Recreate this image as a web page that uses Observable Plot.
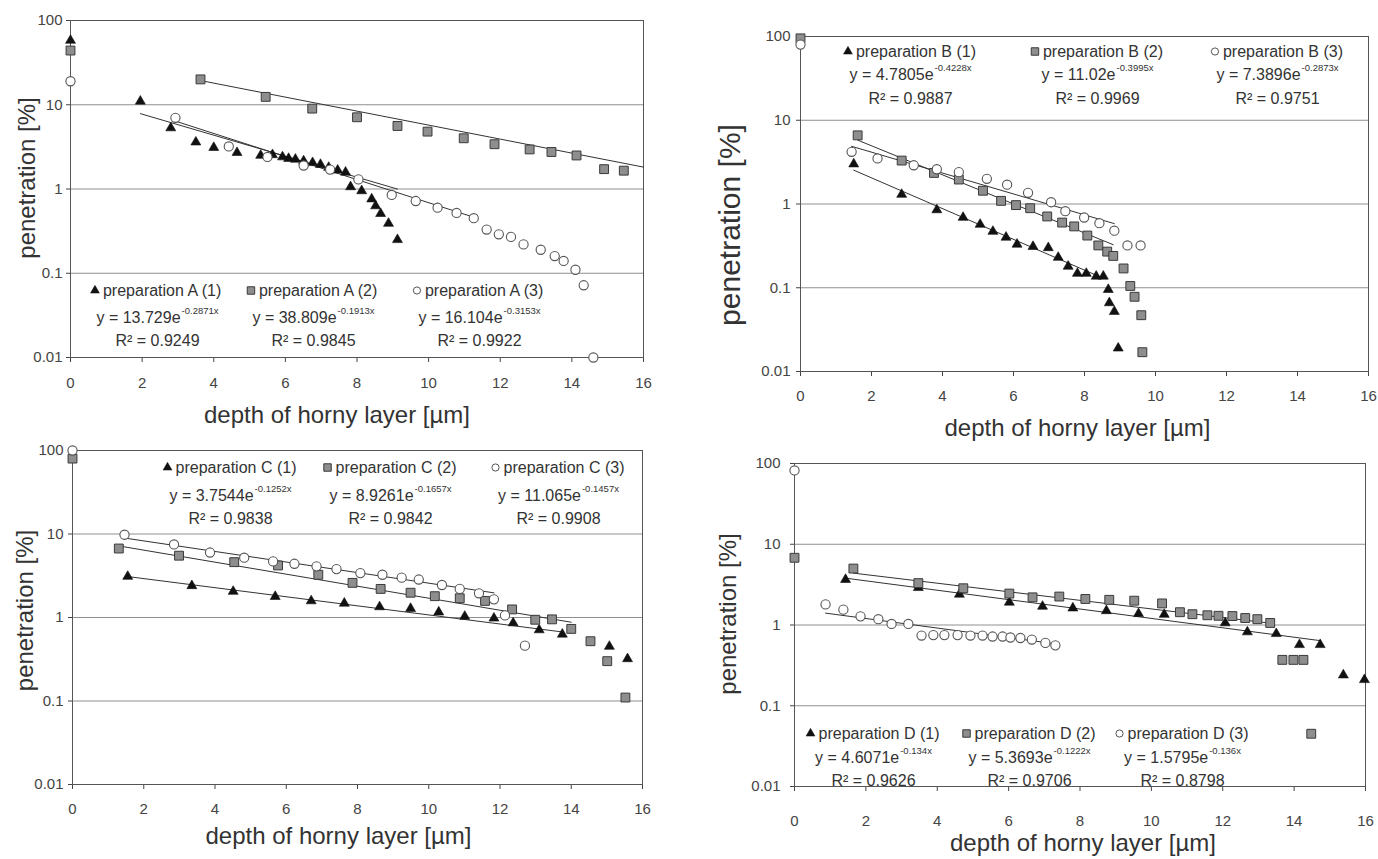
<!DOCTYPE html>
<html><head><meta charset="utf-8">
<script src="https://cdn.jsdelivr.net/npm/d3@7"></script>
<script src="https://cdn.jsdelivr.net/npm/@observablehq/plot@0.6"></script>
<style>
body{margin:0;background:#fff;}
#page{position:relative;width:1378px;height:859px;overflow:hidden;background:#fff;}
.panel{position:absolute;}
</style></head><body><div id="page"></div>
<script>
// ---------- shared axis data ----------
const xTicks = [0, 2, 4, 6, 8, 10, 12, 14, 16];
const yTicks = [0.01, 0.1, 1, 10, 100];
const yTickLabels = ["0.01", "0.1", "1", "10", "100"];
const xTitle = "depth of horny layer [µm]";
const yTitle = "penetration [%]";

// ---------- panel A ----------
const A1x = [0, 1.95, 2.8, 3.5, 4.0, 4.65, 5.31, 5.64, 5.92, 6.09, 6.28, 6.51, 6.76, 6.98, 7.21, 7.46, 7.68, 7.82, 8.13, 8.41, 8.52, 8.66, 8.88, 9.13];
const A1y = [58, 11, 5.3, 3.6, 3.1, 2.7, 2.5, 2.55, 2.4, 2.3, 2.25, 2.15, 2.05, 1.95, 1.8, 1.67, 1.58, 1.06, 0.95, 0.76, 0.63, 0.51, 0.39, 0.25];
const A2x = [0, 3.63, 5.45, 6.75, 8.0, 9.13, 9.97, 10.98, 11.84, 12.82, 13.43, 14.13, 14.9, 15.45];
const A2y = [44, 20, 12.4, 9.0, 7.1, 5.6, 4.8, 4.0, 3.4, 2.95, 2.75, 2.5, 1.72, 1.65];
const A3x = [0, 2.93, 4.42, 5.5, 6.51, 7.25, 8.04, 8.97, 9.64, 10.25, 10.78, 11.26, 11.62, 11.96, 12.3, 12.65, 13.13, 13.52, 13.77, 14.1, 14.33, 14.6];
const A3y = [19, 7.0, 3.2, 2.4, 1.9, 1.7, 1.3, 0.85, 0.72, 0.6, 0.52, 0.45, 0.33, 0.29, 0.27, 0.22, 0.19, 0.16, 0.14, 0.11, 0.072, 0.01];
const A_labels = ["preparation A (1)", "preparation A (2)", "preparation A (3)"];
const A_coef = [13.729, 38.809, 16.104];
const A_rate = [-0.2871, -0.1913, -0.3153];
const A_r2 = ["0.9249", "0.9845", "0.9922"];
const A_fitRange = [[1.95, 9.13], [3.63, 16], [2.93, 11.3]];

// ---------- panel B ----------
const B1x = [1.5, 2.85, 3.84, 4.58, 5.06, 5.42, 5.79, 6.1, 6.55, 6.98, 7.26, 7.54, 7.8, 8.05, 8.33, 8.53, 8.67, 8.7, 8.84, 8.95];
const B1y = [3.0, 1.3, 0.85, 0.69, 0.57, 0.47, 0.4, 0.33, 0.31, 0.3, 0.23, 0.18, 0.148, 0.148, 0.137, 0.137, 0.095, 0.066, 0.052, 0.019];
const B2x = [0, 1.61, 2.85, 3.76, 4.46, 5.14, 5.65, 6.07, 6.47, 6.95, 7.37, 7.71, 8.08, 8.39, 8.64, 8.81, 9.1, 9.29, 9.41, 9.6, 9.63];
const B2y = [95, 6.6, 3.3, 2.35, 1.96, 1.44, 1.09, 0.97, 0.89, 0.71, 0.6, 0.54, 0.42, 0.32, 0.27, 0.24, 0.17, 0.105, 0.078, 0.047, 0.017];
const B3x = [0, 1.44, 2.17, 3.19, 3.84, 4.46, 5.25, 5.82, 6.41, 7.06, 7.46, 7.99, 8.42, 8.84, 9.21, 9.58];
const B3y = [80, 4.2, 3.5, 2.9, 2.6, 2.4, 2.0, 1.7, 1.36, 1.05, 0.82, 0.69, 0.59, 0.48, 0.32, 0.32];
const B_labels = ["preparation B (1)", "preparation B (2)", "preparation B (3)"];
const B_coef = [4.7805, 11.02, 7.3896];
const B_rate = [-0.4228, -0.3995, -0.2873];
const B_r2 = ["0.9887", "0.9969", "0.9751"];
const B_fitRange = [[1.5, 8.53], [1.61, 8.81], [1.44, 8.84]];

// ---------- panel C ----------
const C1x = [1.55, 3.35, 4.51, 5.69, 6.7, 7.63, 8.62, 9.49, 10.28, 11.01, 11.83, 12.37, 13.1, 13.75, 15.07, 15.58];
const C1y = [3.1, 2.4, 2.05, 1.78, 1.58, 1.48, 1.34, 1.28, 1.16, 1.03, 0.98, 0.86, 0.71, 0.63, 0.45, 0.32];
const C2x = [0, 1.3, 2.99, 4.54, 5.77, 6.9, 7.86, 8.65, 9.49, 10.17, 10.87, 11.58, 12.34, 12.99, 13.46, 14.0, 14.54, 15.01, 15.52];
const C2y = [80, 6.7, 5.5, 4.6, 4.2, 3.25, 2.6, 2.2, 1.98, 1.8, 1.7, 1.58, 1.25, 0.94, 0.95, 0.73, 0.52, 0.3, 0.11];
const C3x = [0, 1.46, 2.85, 3.86, 4.82, 5.63, 6.23, 6.85, 7.41, 8.08, 8.7, 9.24, 9.72, 10.37, 10.87, 11.41, 11.83, 12.14, 12.7];
const C3y = [100, 9.8, 7.5, 6.0, 5.2, 4.7, 4.4, 4.1, 3.8, 3.4, 3.25, 3.0, 2.85, 2.45, 2.2, 1.95, 1.65, 1.06, 0.46];
const C_labels = ["preparation C (1)", "preparation C (2)", "preparation C (3)"];
const C_coef = [3.7544, 8.9261, 11.065];
const C_rate = [-0.1252, -0.1657, -0.1457];
const C_r2 = ["0.9838", "0.9842", "0.9908"];
const C_fitRange = [[1.55, 13.75], [1.3, 14.0], [1.46, 11.83]];

// ---------- panel D ----------
const D1x = [1.43, 3.47, 4.62, 6.02, 6.95, 7.8, 8.74, 9.64, 10.36, 12.07, 12.69, 13.5, 14.15, 14.73, 15.38, 15.97];
const D1y = [3.65, 2.9, 2.4, 1.91, 1.7, 1.62, 1.5, 1.38, 1.35, 1.06, 0.82, 0.78, 0.57, 0.57, 0.24, 0.21];
const D2x = [0, 1.65, 3.47, 4.73, 6.02, 6.67, 7.42, 8.15, 8.82, 9.52, 10.3, 10.8, 11.15, 11.57, 11.88, 12.27, 12.63, 12.97, 13.33, 13.67, 13.98, 14.26, 14.48];
const D2y = [6.8, 5.0, 3.3, 2.85, 2.45, 2.2, 2.25, 2.1, 2.05, 2.0, 1.85, 1.44, 1.36, 1.32, 1.3, 1.29, 1.22, 1.18, 1.06, 0.37, 0.37, 0.37, 0.045];
const D3x = [0, 0.87, 1.37, 1.85, 2.35, 2.72, 3.19, 3.56, 3.89, 4.2, 4.57, 4.93, 5.27, 5.55, 5.83, 6.05, 6.33, 6.65, 7.03, 7.31];
const D3y = [82, 1.8, 1.55, 1.28, 1.18, 1.03, 1.03, 0.74, 0.75, 0.75, 0.75, 0.74, 0.74, 0.72, 0.72, 0.7, 0.69, 0.66, 0.6, 0.56];
const D_labels = ["preparation D (1)", "preparation D (2)", "preparation D (3)"];
const D_coef = [4.6071, 5.3693, 1.5795];
const D_rate = [-0.134, -0.1222, -0.136];
const D_r2 = ["0.9626", "0.9706", "0.8798"];
const D_fitRange = [[1.43, 14.73], [1.65, 13.33], [0.87, 7.31]];

// ---------- styles & layout (not data) ----------
const FONT = "'Liberation Sans', Arial, Helvetica, sans-serif";
const TEXT = "#333";
const markerStyles = [
  {symbol: "triangle", r: 3.7, fill: "#111", stroke: "#111", strokeWidth: 0.6},
  {symbol: "square", r: 5, fill: "#8e8e8e", stroke: "#3a3a3a", strokeWidth: 1},
  {symbol: "circle", r: 4.6, fill: "#fff", stroke: "#555", strokeWidth: 1.1}
];
const legendMarkerStyles = [
  {symbol: "triangle", r: 3.3, fill: "#111", stroke: "#111", strokeWidth: 0.5},
  {symbol: "square", r: 4.2, fill: "#8e8e8e", stroke: "#3a3a3a", strokeWidth: 1},
  {symbol: "circle", r: 3.6, fill: "#fff", stroke: "#555", strokeWidth: 1}
];
const layout = {
  A: {left: 0, top: 0, width: 689, height: 430, m: [20, 46, 73, 70], xPad: 15, yPad: 4, rows: [270, 297, 320], cols: [87, 243, 409], xt: [-20, 58], yt: [-43, -11, 24]},
  B: {left: 689, top: 0, width: 689, height: 440, m: [36, 10, 69, 111], xPad: 14, yPad: 6, rows: [15, 38, 62], cols: [110, 297, 477], xt: [-7, 57], yt: [-70, 21, 30]},
  C: {left: 0, top: 430, width: 689, height: 429, m: [20, 47, 75, 72], xPad: 14, yPad: 5, rows: [17, 45, 68], cols: [158, 318, 486], xt: [-19, 52], yt: [-47, -7, 24]},
  D: {left: 689, top: 440, width: 689, height: 419, m: [23, 13, 73, 105], xPad: 24, yPad: 10, rows: [270, 294, 317], cols: [79, 235, 388], xt: [3, 57], yt: [-66, -11, 24]}
};

const panels = [
  {id: "A", xs: [A1x, A2x, A3x], ys: [A1y, A2y, A3y], labels: A_labels, coef: A_coef, rate: A_rate, r2: A_r2, fit: A_fitRange},
  {id: "B", xs: [B1x, B2x, B3x], ys: [B1y, B2y, B3y], labels: B_labels, coef: B_coef, rate: B_rate, r2: B_r2, fit: B_fitRange},
  {id: "C", xs: [C1x, C2x, C3x], ys: [C1y, C2y, C3y], labels: C_labels, coef: C_coef, rate: C_rate, r2: C_r2, fit: C_fitRange},
  {id: "D", xs: [D1x, D2x, D3x], ys: [D1y, D2y, D3y], labels: D_labels, coef: D_coef, rate: D_rate, r2: D_r2, fit: D_fitRange}
];

const ctx = document.createElement("canvas").getContext("2d");
function tw(text, size) { ctx.font = `${size}px 'Liberation Sans', Arial, sans-serif`; return ctx.measureText(text).width; }

const LEG = 16, EXP = 9.5;

function makePanel(p) {
  const L = layout[p.id];
  const marks = [];
  marks.push(Plot.ruleY(yTicks.slice(1, -1), {stroke: "#8f8f8f", strokeWidth: 1}));
  marks.push(Plot.frame({stroke: "#555", strokeWidth: 1}));
  // trend lines y = a·e^(b·x), straight on a log axis
  p.coef.forEach((a, i) => {
    const pts = p.fit[i].map(x => ({x, y: a * Math.exp(p.rate[i] * x)}));
    marks.push(Plot.line(pts, {x: "x", y: "y", stroke: "#333", strokeWidth: 1}));
  });
  // points
  p.xs.forEach((xs, i) => {
    const data = xs.map((x, j) => ({x, y: p.ys[i][j]}));
    marks.push(Plot.dot(data, {x: "x", y: "y", ...markerStyles[i]}));
  });
  // legend blocks
  p.labels.forEach((lab, i) => {
    const c = L.cols[i];
    const w = tw(lab, LEG);
    const left = c - (w + 13) / 2;
    marks.push(Plot.dot([lab], {frameAnchor: "top-left", dx: left + 4, dy: L.rows[0], ...legendMarkerStyles[i]}));
    marks.push(Plot.text([lab], {frameAnchor: "top-left", dx: left + 12, dy: L.rows[0], textAnchor: "start", lineAnchor: "middle", fontSize: LEG, fill: TEXT}));
    const main = `y = ${p.coef[i]}e`;
    const ex = `${p.rate[i]}x`;
    const mw = tw(main, LEG), ew = tw(ex, EXP);
    const P = c - (mw + ew + 1) / 2 + mw;
    marks.push(Plot.text([main], {frameAnchor: "top-left", dx: P, dy: L.rows[1], textAnchor: "end", lineAnchor: "middle", fontSize: LEG, fill: TEXT}));
    marks.push(Plot.text([ex], {frameAnchor: "top-left", dx: P + 1, dy: L.rows[1] - 7, textAnchor: "start", lineAnchor: "middle", fontSize: EXP, fill: TEXT}));
    marks.push(Plot.text([`R² = ${p.r2[i]}`], {frameAnchor: "top-left", dx: c, dy: L.rows[2], textAnchor: "middle", lineAnchor: "middle", fontSize: LEG, fill: TEXT}));
  });
  // axis titles
  marks.push(Plot.text([xTitle], {frameAnchor: "bottom", dx: L.xt[0], dy: L.xt[1], textAnchor: "middle", lineAnchor: "middle", fontSize: 24, fill: TEXT}));
  marks.push(Plot.text([yTitle], {frameAnchor: "left", rotate: -90, dx: L.yt[0], dy: L.yt[1], textAnchor: "middle", lineAnchor: "middle", fontSize: L.yt[2], fill: TEXT}));

  return Plot.plot({
    width: L.width, height: L.height,
    marginTop: L.m[0], marginRight: L.m[1], marginBottom: L.m[2], marginLeft: L.m[3],
    style: {fontFamily: FONT, fontSize: "15px", color: "#444", background: "transparent", overflow: "visible"},
    x: {domain: [0, 16], ticks: xTicks, tickSize: 5, tickPadding: L.xPad, label: null},
    y: {type: "log", domain: [0.01, 100], ticks: yTicks, tickFormat: d => yTickLabels[yTicks.indexOf(d)], tickSize: 4, tickPadding: L.yPad, label: null},
    marks
  });
}

const page = document.getElementById("page");
panels.forEach(p => {
  const L = layout[p.id];
  const div = document.createElement("div");
  div.className = "panel";
  div.style.left = L.left + "px";
  div.style.top = L.top + "px";
  div.style.width = L.width + "px";
  div.style.height = L.height + "px";
  div.appendChild(makePanel(p));
  page.appendChild(div);
});
</script></body></html>
